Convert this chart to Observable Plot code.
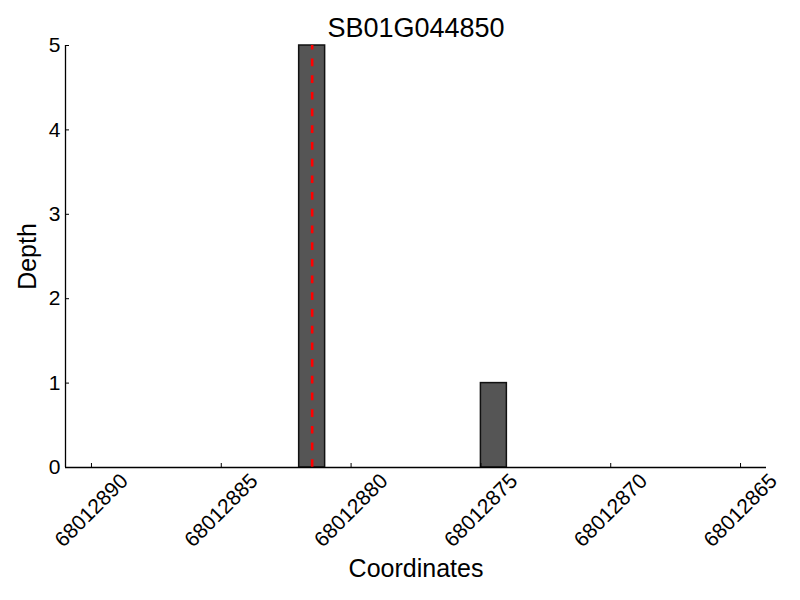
<!DOCTYPE html>
<html>
<head>
<meta charset="utf-8">
<script src="https://cdn.jsdelivr.net/npm/d3@7"></script>
<script src="https://cdn.jsdelivr.net/npm/@observablehq/plot@0.6"></script>
<style>
  html, body { margin: 0; padding: 0; background: #fff; }
</style>
</head>
<body>
<div id="chart"></div>
<script>
const title = "SB01G044850";
const barStart = [68012882, 68012875];
const barEnd = [68012881, 68012874];
const depth = [5, 1];
const markerPos = [68012881.5];
const xTicks = [68012890, 68012885, 68012880, 68012875, 68012870, 68012865];
const yTicks = [0, 1, 2, 3, 4, 5];
const xDomain = [68012891, 68012864];
const yDomain = [0, 5];

const bars = barStart.map((s, i) => ({x1: s, x2: barEnd[i], y: depth[i]}));
const font = "'Liberation Sans', Arial, Helvetica, sans-serif";

const chart = Plot.plot({
  width: 800,
  height: 600,
  marginLeft: 65,
  marginRight: 34,
  marginTop: 45,
  marginBottom: 133,
  style: {fontFamily: font, background: "#fff", color: "#000"},
  x: {domain: xDomain, label: null},
  y: {domain: yDomain, label: null},
  marks: [
    Plot.rectY(bars, {x1: "x1", x2: "x2", y: "y", fill: "#555555", stroke: "#111", strokeWidth: 1.5}),
    Plot.ruleX(markerPos, {y1: 0, y2: 5, stroke: "#ff0000", strokeWidth: 2.6, strokeDasharray: "7.7,9"}),
    Plot.ruleY([0], {stroke: "#000", strokeWidth: 1.3}),
    Plot.ruleX([xDomain[0]], {stroke: "#000", strokeWidth: 1.3}),
    Plot.axisY({ticks: yTicks, tickSize: -4, tickPadding: 9, fontSize: 21, tickFormat: d3.format("d"), label: null}),
    Plot.axisX({ticks: xTicks, tickSize: -4, tickFormat: () => "", label: null}),
    Plot.text(xTicks, {x: d => d, frameAnchor: "bottom", dy: 43, rotate: -45, textAnchor: "middle", lineAnchor: "middle", fontSize: 21, text: d => String(d), fill: "#000"}),
    Plot.text([title], {frameAnchor: "top", dy: -17, lineAnchor: "middle", textAnchor: "middle", fontSize: 27, fill: "#000"}),
    Plot.text(["Coordinates"], {frameAnchor: "bottom", dy: 101, lineAnchor: "middle", textAnchor: "middle", fontSize: 25, fill: "#000"}),
    Plot.text(["Depth"], {frameAnchor: "left", dx: -38, rotate: -90, lineAnchor: "middle", textAnchor: "middle", fontSize: 25, fill: "#000"})
  ]
});
document.getElementById("chart").append(chart);
</script>
</body>
</html>
